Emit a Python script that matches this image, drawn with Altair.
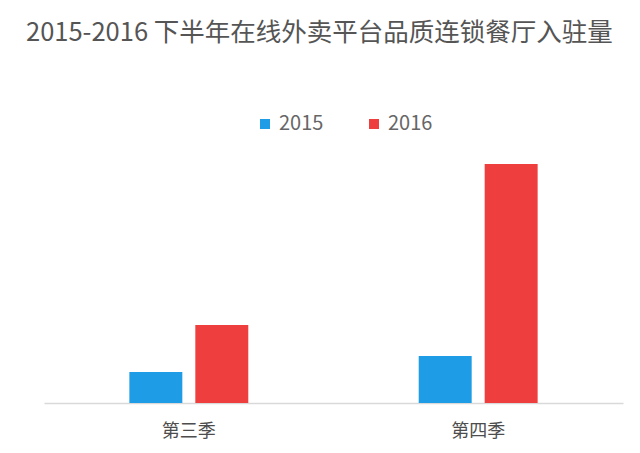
import altair as alt
import pandas as pd

quarters = ["第三季", "第四季"]
years = ["2015", "2016"]
values_2015 = [31, 47]
values_2016 = [78, 239]

rows = []
for i, q in enumerate(quarters):
    rows.append({"季度": q, "年份": "2015", "入驻量": values_2015[i]})
    rows.append({"季度": q, "年份": "2016", "入驻量": values_2016[i]})
df = pd.DataFrame(rows)

FONT = "Noto Sans CJK SC"

chart = alt.Chart(df).mark_bar().encode(
    x=alt.X("季度:N", sort=quarters,
            scale=alt.Scale(paddingInner=0.589, paddingOuter=0.295),
            axis=alt.Axis(title=None, labelAngle=0, ticks=False, domainColor="#d9d9d9",
                          domainWidth=1.5, labelFontSize=18, labelColor="#4d4d4d",
                          labelFont=FONT, labelPadding=19)),
    xOffset=alt.XOffset("年份:N", sort=years,
                        scale=alt.Scale(paddingInner=0.197, paddingOuter=0)),
    y=alt.Y("入驻量:Q", scale=alt.Scale(domain=[0, 300]), axis=None),
    color=alt.Color("年份:N", sort=years,
                    scale=alt.Scale(domain=years, range=["#1E9DE6", "#EE3E3E"]),
                    legend=alt.Legend(title=None, orient="none", direction="horizontal",
                                      legendX=211, legendY=11, symbolType="square",
                                      symbolSize=100, symbolStrokeWidth=0,
                                      labelFontSize=20, labelColor="#666666", labelFont=FONT,
                                      labelOffset=4, columnPadding=40, padding=0)),
).properties(
    width=579,
    height=300,
    padding={"left": 36, "top": 95, "right": 9, "bottom": 42},
    autosize=alt.AutoSizeParams(type="none"),
    title=alt.TitleParams("2015-2016 下半年在线外卖平台品质连锁餐厅入驻量",
                          anchor="start", frame="group", dx=-18, offset=57,
                          fontSize=25.5, font=FONT, fontWeight="normal", color="#555555"),
).configure_view(stroke=None)

chart.save("out.html", embed_options={"renderer": "svg", "actions": False})
